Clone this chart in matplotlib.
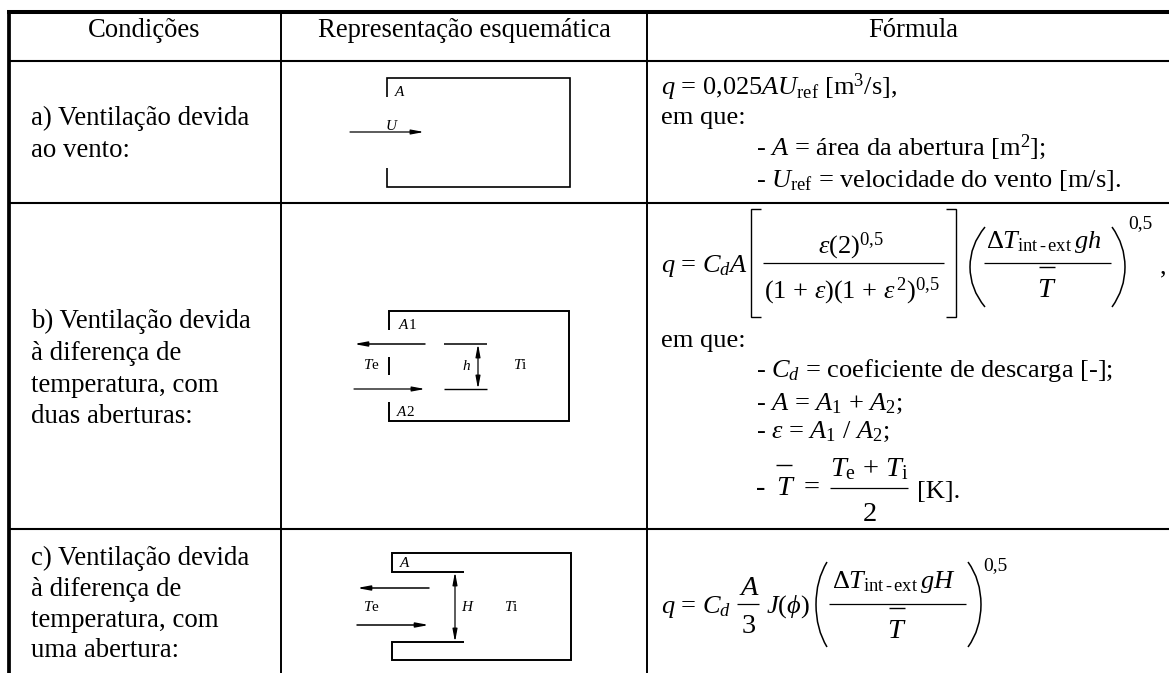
import matplotlib
matplotlib.use("Agg")
import matplotlib.pyplot as plt
from matplotlib.patches import PathPatch
from matplotlib.path import Path

plt.rcParams["font.family"] = ["Liberation Serif", "DejaVu Serif"]
plt.rcParams["mathtext.fontset"] = "custom"
plt.rcParams["mathtext.rm"] = "Liberation Serif"
plt.rcParams["mathtext.it"] = "Liberation Serif:italic"
plt.rcParams["mathtext.bf"] = "Liberation Serif:bold"
plt.rcParams["mathtext.default"] = "rm"

W, H = 1169, 673
FS = 19
BIG = 20.5
SMALL = 11

headers = ["Condições", "Representação esquemática", "Fórmula"]
conditions = [
    ["a) Ventilação devida", "ao vento:"],
    ["b) Ventilação devida", "à diferença de", "temperatura, com", "duas aberturas:"],
    ["c) Ventilação devida", "à diferença de", "temperatura, com", "uma abertura:"],
]
condition_baselines = [[125, 157], [328, 360, 392, 423], [565, 596, 627, 657]]

fig = plt.figure(figsize=(W / 100, H / 100), dpi=100)
ax = fig.add_axes([0, 0, 1, 1])
ax.set_xlim(0, W)
ax.set_ylim(H, 0)
ax.axis("off")


def line(xs, ys, lw=1.1, color="black"):
    ax.plot(xs, ys, color=color, lw=lw, solid_capstyle="butt", solid_joinstyle="miter")


def arrow(x0, y0, x1, y1, style="-|>", lw=0.9):
    ax.annotate("", xy=(x1, y1), xytext=(x0, y0),
                arrowprops=dict(arrowstyle=style + ",head_length=0.75,head_width=0.14", lw=lw,
                                color="black", shrinkA=0, shrinkB=0))


def txt(x, y, s, size=FS, ha="left", **kw):
    ax.text(x, y, s, fontsize=size, ha=ha, va="baseline", color="black", **kw)


def bracket(x, y0, y1, side):
    line([x + side * 10, x, x, x + side * 10], [y0, y0, y1, y1], lw=1.0)


def paren(x0, x1, y0, y1):
    # x0 is the tips, x1 the belly of the curve
    ym = (y0 + y1) / 2
    verts = [(x0, y0), (x1, y0 + 18), (x1, ym), (x1, y1 - 18), (x0, y1)]
    codes = [Path.MOVETO, Path.CURVE3, Path.CURVE3, Path.CURVE3, Path.CURVE3]
    ax.add_patch(PathPatch(Path(verts, codes), fill=False, lw=1.1, color="black"))


# table grid
line([7, W], [12, 12], lw=2.9)
line([9, W], [61, 61], lw=1.5)
line([9, W], [203, 203], lw=1.5)
line([9, W], [529, 529], lw=1.5)
line([9, 9], [10, H], lw=2.7)
line([281, 281], [12, H], lw=1.4)
line([647, 647], [12, H], lw=1.4)

# header
txt(144, 37, headers[0], size=19.2, ha="center")
txt(464, 37, headers[1], size=19.2, ha="center")
txt(913, 37, headers[2], size=19.2, ha="center")

# left column
for rows, ys in zip(conditions, condition_baselines):
    for row, y in zip(rows, ys):
        txt(31, y, row, size=19.4)

# sketch a
line([387, 387, 570, 570, 387, 387], [97, 78, 78, 187, 187, 168], lw=1.2)
txt(395, 96, "A", size=SMALL, style="italic")
arrow(350, 132, 424, 132)
txt(386, 130, "U", size=SMALL, style="italic")

# sketch b
line([389, 389, 569, 569, 389, 389], [330, 311, 311, 421, 421, 402], lw=1.4)
line([389, 389], [357, 375], lw=1.4)
txt(398, 329, r"$\mathit{A}$1", size=SMALL)
txt(396, 416, r"$\mathit{A}$2", size=SMALL)
arrow(425, 344, 354, 344, lw=1.1)
arrow(354, 389, 425, 389)
line([444, 487], [344, 344], lw=1.1)
line([444, 487], [389, 389], lw=1.0)
arrow(478, 344, 478, 389, style="<|-|>")
txt(462, 370, "h", size=SMALL, style="italic")
txt(363, 369, r"$\mathit{T}$e", size=SMALL)
txt(513, 369, r"$\mathit{T}$i", size=SMALL)

# sketch c
line([464, 392, 392, 571, 571, 392, 392, 464], [572, 572, 553, 553, 660, 660, 642, 642], lw=1.4)
txt(400, 567, "A", size=SMALL, style="italic")
arrow(429, 588, 357, 588, lw=1.1)
arrow(357, 625, 429, 625, lw=1.1)
arrow(455, 572, 455, 642, style="<|-|>")
txt(363, 611, r"$\mathit{T}$e", size=SMALL)
txt(461, 611, "H", size=SMALL, style="italic")
txt(504, 611, r"$\mathit{T}$i", size=SMALL)

# formula a
txt(661, 95, r"$\mathit{q}$ = 0,025$\mathit{AU}_{\mathrm{ref}}$ [m$^{3}$/s],")
txt(661, 124, "em que:")
txt(756, 155, r"- $\mathit{A}$ = área da abertura [m$^{2}$];")
txt(756, 187, r"- $\mathit{U}_{\mathrm{ref}}$ = velocidade do vento [m/s].")

# formula b
txt(661, 272, r"$\mathit{q}$ = $\mathit{C_d A}$")
bracket(751, 209, 317, 1)
bracket(956, 209, 317, -1)
txt(851, 253, r"$\mathit{\varepsilon}$(2)$^{0{,}5}$", ha="center")
line([763, 944], [263, 263], lw=0.9)
txt(852, 298, r"(1 + $\mathit{\varepsilon}$)(1 + $\mathit{\varepsilon}^{\,2}$)$^{0{,}5}$", ha="center")
paren(985, 970, 227, 307)
paren(1112, 1125, 227, 307)
txt(986, 248, r"$\Delta\mathit{T}_{\mathrm{int\,\text{-}\,ext}}\,\mathit{gh}$")
line([984, 1111], [263, 263], lw=0.9)
txt(1047, 297, r"$\mathit{T}$", ha="center", size=BIG)
line([1039, 1055], [267, 267], lw=1.0)
txt(1128, 228, "0,5", size=14)
txt(1160, 273, ",", size=FS)

# legend under b
txt(661, 347, "em que:")
txt(756, 377, r"- $\mathit{C_d}$ = coeficiente de descarga [-];")
txt(756, 410, r"- $\mathit{A}$ = $\mathit{A}_1$ + $\mathit{A}_2$;")
txt(756, 438, r"- $\mathit{\varepsilon}$ = $\mathit{A}_1$ / $\mathit{A}_2$;")
txt(756, 495, "-", size=BIG)
txt(776, 495, r"$\mathit{T}$", size=BIG)
txt(804, 495, "=", size=BIG)
line([776, 792], [465, 465], lw=1.0)
txt(869, 476, r"$\mathit{T}_{\mathrm{e}}$ + $\mathit{T}_{\mathrm{i}}$", ha="center", size=BIG)
line([830, 908], [488, 488], lw=0.9)
txt(870, 521, "2", ha="center", size=BIG)
txt(917, 498, "[K].")

# formula c
txt(661, 613, r"$\mathit{q}$ = $\mathit{C_d}$")
txt(749, 595, "A", ha="center", size=BIG, style="italic")
line([737, 759], [604, 604], lw=0.9)
txt(749, 633, "3", ha="center", size=BIG)
txt(766, 613, r"$\mathit{J}$($\mathit{\phi}$)")
paren(827, 816, 562, 647)
paren(968, 981, 562, 647)
txt(832, 588, r"$\Delta\mathit{T}_{\mathrm{int\,\text{-}\,ext}}\,\mathit{gH}$")
line([829, 966], [604, 604], lw=0.9)
txt(897, 638, r"$\mathit{T}$", ha="center", size=BIG)
line([889, 905], [608, 608], lw=1.0)
txt(983, 570, "0,5", size=14)

fig.savefig("out.png", dpi=100)
